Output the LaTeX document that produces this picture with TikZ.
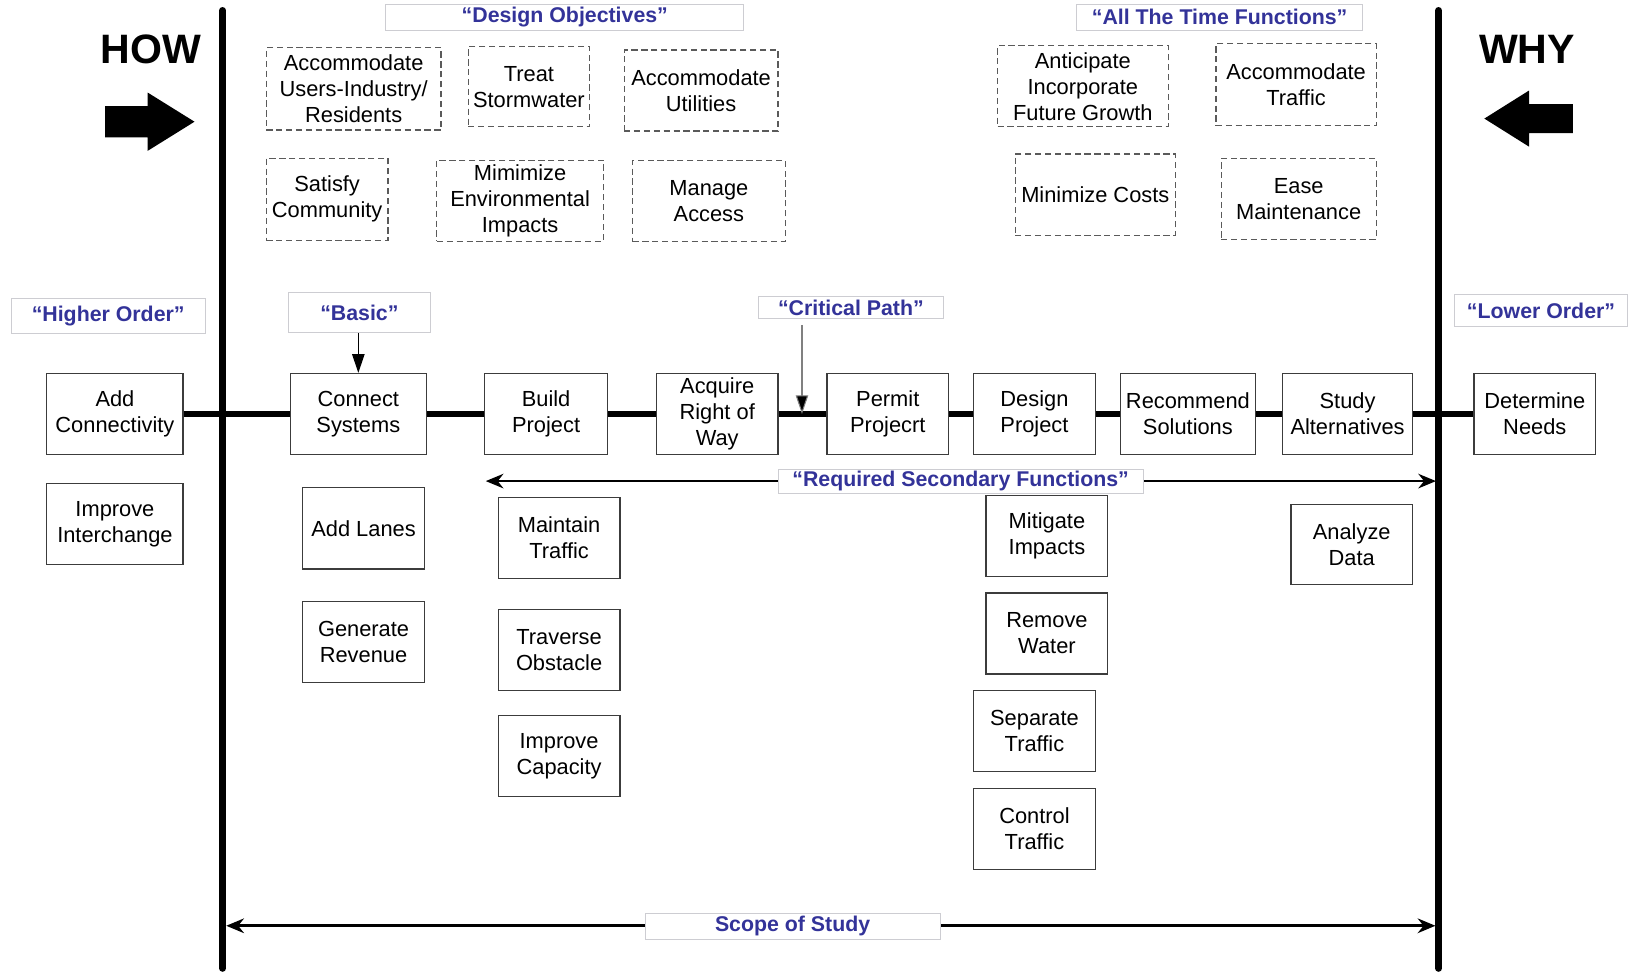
\documentclass[tikz,border=0pt]{standalone}
\usepackage{fontspec}
\setmainfont{Liberation Sans}
\usetikzlibrary{arrows.meta}
\definecolor{lblue}{RGB}{51,51,153}
\definecolor{lborder}{RGB}{205,205,210}
\definecolor{boxline}{RGB}{60,60,60}
\definecolor{dashline}{RGB}{90,90,90}
\begin{document}
\begin{tikzpicture}[x=1pt,y=-1pt,
  fbox/.style={draw=boxline, line width=1.2pt, fill=white, inner sep=0pt, align=center,
    minimum height=78pt, font=\fontsize{21}{25}\selectfont},
  dbox/.style={draw=dashline, line width=1.1pt, dash pattern=on 6pt off 3.5pt, inner sep=0pt,
    align=center, font=\fontsize{21}{25}\selectfont},
  lbl/.style={draw=lborder, line width=0.8pt, fill=white, inner sep=0pt, text=lblue,
    font=\fontsize{20.5}{22}\selectfont\bfseries},
  big/.style={font=\fontsize{39.5}{42}\selectfont\bfseries},
  chain/.style={line width=5pt},
  scopebar/.style={line width=6.5pt, line cap=round},
  thinarrow/.style={line width=1pt, -{Triangle[length=18pt,width=12pt]}},
  dblarrow/.style={line width=2.2pt, {Stealth[length=17pt,width=14pt]}-{Stealth[length=17pt,width=14pt]}},
]
\useasboundingbox (0,0) rectangle (1568,935.4);
\fill[white] (0,0) rectangle (1568,935.4);

% HOW / WHY
\node[big] (how) at (145,47) {HOW};
\node[big] (why) at (1468,47) {WHY};
\fill (101,102) -- (142,102) -- (142,89) -- (187,117) -- (142,145) -- (142,132) -- (101,132) -- cycle;
\fill (1512,100) -- (1470,100) -- (1470,87) -- (1427,114) -- (1470,141) -- (1470,128) -- (1512,128) -- cycle;

% top labels
\node[lbl, minimum width=344pt, minimum height=25pt] (ldo) at (543,16.5) {“Design Objectives”};
\node[lbl, minimum width=275pt, minimum height=25pt] (lat) at (1172.5,16.5) {“All The Time Functions”};

% dashed objectives
\node[dbox, minimum width=168pt, minimum height=79pt] (d1) at (340,85.5) {Accommodate\\Users-Industry/\\Residents};
\node[dbox, minimum width=117pt, minimum height=77pt] (d2) at (508.5,83.5) {Treat\\Stormwater};
\node[dbox, minimum width=148pt, minimum height=78pt] (d3) at (674,87) {Accommodate\\Utilities};
\node[dbox, minimum width=117pt, minimum height=79pt] (d4) at (314.5,191.5) {Satisfy\\Community};
\node[dbox, minimum width=160pt, minimum height=78pt] (d5) at (500,193) {Mimimize\\Environmental\\Impacts};
\node[dbox, minimum width=147pt, minimum height=78pt] (d6) at (681.5,193) {Manage\\Access};
\node[dbox, minimum width=164pt, minimum height=78pt] (d7) at (1041,83) {Anticipate\\Incorporate\\Future Growth};
\node[dbox, minimum width=154pt, minimum height=79pt] (d8) at (1246,81.5) {Accommodate\\Traffic};
\node[dbox, minimum width=154pt, minimum height=78pt] (d9) at (1053,187) {Minimize Costs};
\node[dbox, minimum width=149pt, minimum height=78pt] (d10) at (1248.5,191) {Ease\\Maintenance};

% order labels
\node[lbl, minimum width=186pt, minimum height=34pt] (lho) at (104,304) {“Higher Order”};
\node[lbl, minimum width=137pt, minimum height=39pt] (lb) at (345.5,300.5) {“Basic”};
\node[lbl, minimum width=178pt, minimum height=21pt] (lcp) at (818,295.5) {“Critical Path”};
\node[lbl, minimum width=167pt, minimum height=31pt] (llo) at (1481.5,298.5) {“Lower Order”};

% main row
\node[fbox, minimum width=131pt] (addc) at (110.5,398) {Add\\Connectivity};
\node[fbox, minimum width=131pt] (conn) at (344.5,398) {Connect\\Systems};
\node[fbox, minimum width=118pt] (build) at (525,398) {Build\\Project};
\node[fbox, minimum width=117pt] (acq) at (689.5,398) {Acquire\\Right of\\Way};
\node[fbox, minimum width=117pt] (perm) at (853.5,398) {Permit\\Projecrt};
\node[fbox, minimum width=117pt] (desg) at (994.5,398) {Design\\Project};
\node[fbox, minimum width=130pt] (reco) at (1142,398) {Recommend\\Solutions};
\node[fbox, minimum width=125pt] (stud) at (1295.5,398) {Study\\Alternatives};
\node[fbox, minimum width=117pt] (detn) at (1475.5,398) {Determine\\Needs};

\draw[chain] (addc.east) -- (conn.west);
\draw[chain] (conn.east) -- (build.west);
\draw[chain] (build.east) -- (acq.west);
\draw[chain] (acq.east) -- (perm.west);
\draw[chain] (perm.east) -- (desg.west);
\draw[chain] (desg.east) -- (reco.west);
\draw[chain] (reco.east) -- (stud.west);
\draw[chain] (stud.east) -- (detn.west);

% secondary functions
\node[fbox, minimum width=131pt] (impint) at (110.5,504) {Improve\\Interchange};
\node[fbox, minimum width=117pt] (addl) at (349.5,508) {Add Lanes};
\node[fbox, minimum width=117pt] (genr) at (349.5,617) {Generate\\Revenue};
\node[fbox, minimum width=117pt] (mtra) at (537.5,517) {Maintain\\Traffic};
\node[fbox, minimum width=117pt] (trav) at (537.5,625) {Traverse\\Obstacle};
\node[fbox, minimum width=117pt] (icap) at (537.5,727) {Improve\\Capacity};
\node[fbox, minimum width=117pt] (miti) at (1006.5,515) {Mitigate\\Impacts};
\node[fbox, minimum width=117pt] (remw) at (1006.5,609) {Remove\\Water};
\node[fbox, minimum width=117pt] (sept) at (994.5,703) {Separate\\Traffic};
\node[fbox, minimum width=117pt] (ctrl) at (994.5,797) {Control\\Traffic};
\node[fbox, minimum width=117pt, minimum height=77pt] (anal) at (1299.5,523.5) {Analyze\\Data};

% scope bars
\coordinate (ltop) at (214,10);
\coordinate (lbot) at (214,931);
\coordinate (rtop) at (1383,10);
\coordinate (rbot) at (1383,931);
\draw[scopebar] (ltop) -- (lbot);
\draw[scopebar] (rtop) -- (rbot);

% basic / critical path arrows
\draw[thinarrow] (conn.north |- lb.south) -- (conn.north);
\coordinate (cpt) at (771,398);
\draw[line width=1pt, draw=gray, -{Triangle[length=18pt,width=12pt,fill=black]}] (cpt |- lcp.south) ++(0,6) -- (cpt);

% required secondary functions arrow
\coordinate (secl) at (467,462.5);
\coordinate (secr) at (1380.5,462.5);
\draw[dblarrow] (secl) -- (secr);
\node[lbl, minimum width=351pt, minimum height=23pt] (lrs) at (923.5,462.5) {“Required Secondary Functions”};

% scope of study arrow
\coordinate (scl) at (217.5,890);
\coordinate (scr) at (1380,890);
\draw[dblarrow, line width=3pt] (scl) -- (scr);
\node[lbl, minimum width=284pt, minimum height=25pt] (lss) at (762,890.5) {Scope of Study};
\end{tikzpicture}
\end{document}
